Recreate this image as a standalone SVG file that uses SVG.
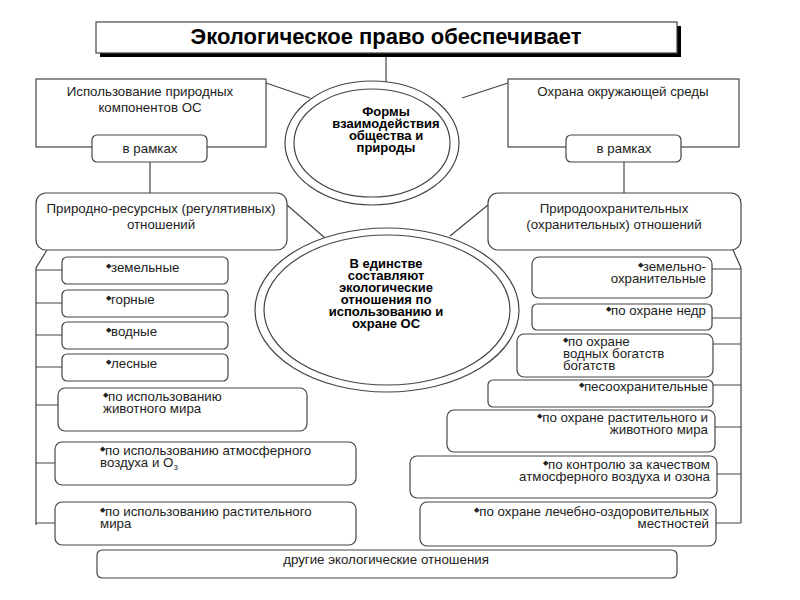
<svg xmlns="http://www.w3.org/2000/svg" width="800" height="600" viewBox="0 0 800 600">
<style>
.b{fill:#fff;stroke:#444;stroke-width:1.2}
.t{font-family:"Liberation Sans",Arial,sans-serif;font-size:13.3px;fill:#222}
.bt{font-family:"Liberation Sans",Arial,sans-serif;font-size:13px;font-weight:bold;fill:#000}
.c{text-anchor:middle}.r{text-anchor:end}
.l{stroke:#444;stroke-width:1.2;fill:none}
.d{font-size:7px;baseline-shift:4px}
</style>
<rect width="800" height="600" fill="#fff"/>
<g id="connectors">
<line class="l" x1="386" y1="53" x2="386" y2="82"/>
<line class="l" x1="266" y1="83" x2="310" y2="98"/>
<line class="l" x1="508" y1="83" x2="462" y2="98"/>
<line class="l" x1="150" y1="162" x2="150" y2="193"/>
<line class="l" x1="624" y1="162" x2="624" y2="193"/>
<line class="l" x1="287" y1="205" x2="325" y2="238"/>
<line class="l" x1="488" y1="205" x2="450" y2="236"/>
<polyline class="l" points="47,250 36,268 36,525"/>
<path class="l" d="M36 270H62M36 303H62M36 335H62M36 367H62M36 405H58M36 463H55M36 523H55"/>
<polyline class="l" points="733,250 741,268 741,523"/>
<path class="l" d="M741 269H712M741 318H712M741 344H713M741 385H713M741 427H715M741 474H717M741 523H716"/>
</g>
<g id="title">
<rect x="100" y="26" width="581" height="31" fill="#000"/>
<rect class="b" x="96" y="22" width="581" height="31"/>
<text class="bt c" x="386" y="44" style="font-size:22px">Экологическое право обеспечивает</text>
</g>
<g id="use">
<rect class="b" x="36" y="79" width="230" height="68"/>
<text class="t c" x="150" y="96">Использование природных</text>
<text class="t c" x="150" y="112">компонентов ОС</text>
<rect class="b" x="92" y="135" width="115" height="27" rx="5"/>
<text class="t c" x="150" y="153">в рамках</text>
</g>
<g id="protect">
<rect class="b" x="508" y="79" width="231" height="68"/>
<text class="t c" x="623" y="96">Охрана окружающей среды</text>
<rect class="b" x="566" y="135" width="115" height="27" rx="5"/>
<text class="t c" x="624" y="153">в рамках</text>
</g>
<g id="forms">
<ellipse class="b" cx="372" cy="143" rx="87" ry="62"/>
<ellipse class="b" cx="372" cy="143" rx="78" ry="54"/>
<text class="bt c" x="386" y="116">Формы</text>
<text class="bt c" x="386" y="128">взаимодействия</text>
<text class="bt c" x="386" y="140">общества и</text>
<text class="bt c" x="386" y="152">природы</text>
</g>
<g id="resource">
<rect class="b" x="36" y="193" width="251" height="57" rx="10"/>
<text class="t c" x="161" y="213">Природно-ресурсных (регулятивных)</text>
<text class="t c" x="161" y="229">отношений</text>
</g>
<g id="nature">
<rect class="b" x="488" y="193" width="253" height="57" rx="10"/>
<text class="t c" x="614" y="213">Природоохранительных</text>
<text class="t c" x="614" y="229">(охранительных) отношений</text>
</g>
<g id="unity">
<ellipse class="b" cx="387" cy="310" rx="132" ry="82"/>
<ellipse class="b" cx="387" cy="310" rx="123" ry="75"/>
<text class="bt c" x="386" y="268">В единстве</text>
<text class="bt c" x="386" y="280">составляют</text>
<text class="bt c" x="386" y="292">экологические</text>
<text class="bt c" x="386" y="304">отношения по</text>
<text class="bt c" x="386" y="316">использованию и</text>
<text class="bt c" x="386" y="328">охране ОС</text>
</g>
<g id="l1"><rect class="b" x="62" y="257" width="166" height="27" rx="5"/><text class="t" x="106" y="272"><tspan class="d">◆</tspan>земельные</text></g>
<g id="l2"><rect class="b" x="62" y="290" width="166" height="27" rx="5"/><text class="t" x="106" y="304"><tspan class="d">◆</tspan>горные</text></g>
<g id="l3"><rect class="b" x="62" y="322" width="166" height="27" rx="5"/><text class="t" x="106" y="336"><tspan class="d">◆</tspan>водные</text></g>
<g id="l4"><rect class="b" x="62" y="354" width="166" height="27" rx="5"/><text class="t" x="106" y="368"><tspan class="d">◆</tspan>лесные</text></g>
<g id="l5"><rect class="b" x="58" y="388" width="249" height="43" rx="7"/><text class="t" x="103" y="401"><tspan class="d">◆</tspan>по использованию</text><text class="t" x="103" y="413">животного мира</text></g>
<g id="l6"><rect class="b" x="55" y="442" width="301" height="43" rx="7"/><text class="t" x="100" y="455"><tspan class="d">◆</tspan>по использованию атмосферного</text><text class="t" x="100" y="467">воздуха и О<tspan font-size="8" dy="3">3</tspan></text></g>
<g id="l7"><rect class="b" x="55" y="502" width="301" height="43" rx="7"/><text class="t" x="100" y="516"><tspan class="d">◆</tspan>по использованию растительного</text><text class="t" x="100" y="528">мира</text></g>
<g id="r1"><rect class="b" x="532" y="257" width="180" height="41" rx="7"/><text class="t r" x="706" y="271"><tspan class="d">◆</tspan>земельно-</text><text class="t r" x="706" y="283">охранительные</text></g>
<g id="r2"><rect class="b" x="532" y="304" width="180" height="26" rx="5"/><text class="t r" x="706" y="315"><tspan class="d">◆</tspan>по охране недр</text></g>
<g id="r3"><rect class="b" x="517" y="334" width="196" height="43" rx="7"/><text class="t" x="563" y="346"><tspan class="d">◆</tspan>по охране</text><text class="t" x="563" y="358">водных богатств</text><text class="t" x="563" y="370">богатств</text></g>
<g id="r4"><rect class="b" x="488" y="380" width="225" height="27" rx="5"/><text class="t r" x="708" y="391"><tspan class="d">◆</tspan>песоохранительные</text></g>
<g id="r5"><rect class="b" x="447" y="410" width="268" height="42" rx="7"/><text class="t r" x="708" y="422"><tspan class="d">◆</tspan>по охране растительного и</text><text class="t r" x="708" y="434">животного мира</text></g>
<g id="r6"><rect class="b" x="410" y="456" width="307" height="42" rx="7"/><text class="t r" x="710" y="469"><tspan class="d">◆</tspan>по контролю за качеством</text><text class="t r" x="710" y="481">атмосферного воздуха и озона</text></g>
<g id="r7"><rect class="b" x="420" y="502" width="296" height="44" rx="7"/><text class="t r" x="709" y="516"><tspan class="d">◆</tspan>по охране лечебно-оздоровительных</text><text class="t r" x="709" y="528">местностей</text></g>
<g id="other"><rect class="b" x="97" y="550" width="580" height="28" rx="5"/><text class="t c" x="386" y="564">другие экологические отношения</text></g>
</svg>
